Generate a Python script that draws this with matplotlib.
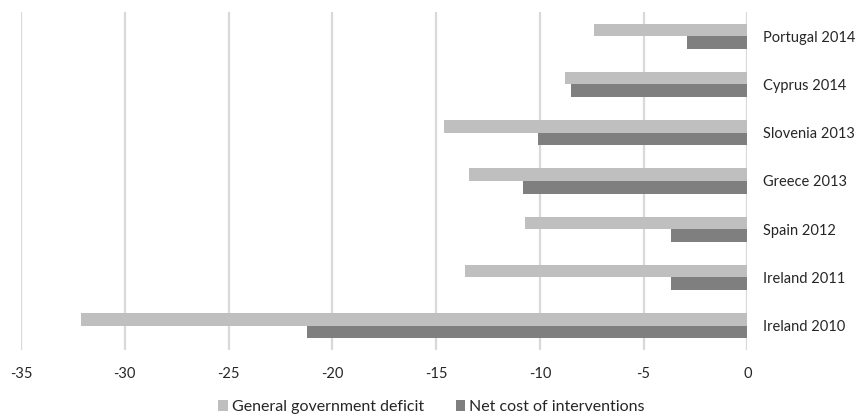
import matplotlib

matplotlib.use("Agg")
import matplotlib.pyplot as plt
import numpy as np

plt.rcParams["font.family"] = ["Lato", "DejaVu Sans"]

# bottom-to-top order, values in % of GDP
categories = ["Ireland 2010", "Ireland 2011", "Spain 2012", "Greece 2013",
              "Slovenia 2013", "Cyprus 2014", "Portugal 2014"]
deficit = [-32.1, -13.6, -10.7, -13.4, -14.6, -8.8, -7.4]
net_cost = [-21.2, -3.7, -3.7, -10.8, -10.1, -8.5, -2.9]
xticks = [-35, -30, -25, -20, -15, -10, -5, 0]

LIGHT = "#bfbfbf"
DARK = "#7f7f7f"
GRID = "#d9d9d9"
TEXT = "#262626"

fig = plt.figure(figsize=(8.63, 4.18), dpi=100)
ax = fig.add_axes([0.0243, 0.163, 0.866 - 0.0243, 0.808])

y = np.arange(len(categories))
h = 0.26
ax.barh(y + h / 2, deficit, h, color=LIGHT, label="General government deficit", zorder=2)
ax.barh(y - h / 2, net_cost, h, color=DARK, label="Net cost of interventions", zorder=2)

ax.set_xlim(-35, 0)
ax.set_ylim(-0.5, len(categories) - 0.5)
ax.set_xticks(xticks)
ax.set_xticklabels([str(v) for v in xticks])
ax.xaxis.grid(True, color=GRID, linewidth=1.6, zorder=0)
ax.set_axisbelow(True)

ax.set_yticks(y)
ax.set_yticklabels(categories)
ax.yaxis.tick_right()
ax.tick_params(axis="y", length=0, pad=11.5, labelsize=10.5, labelcolor=TEXT)
ax.tick_params(axis="x", length=0, pad=12, labelsize=10.5, labelcolor=TEXT)
for s in ax.spines.values():
    s.set_visible(False)

fig.legend(loc="lower center", bbox_to_anchor=(0.5, -0.025), ncol=2, frameon=False,
           fontsize=11.5, handlelength=0.6, handleheight=0.6, handletextpad=0.25,
           columnspacing=2.0, labelcolor=TEXT)

fig.savefig("out.png", dpi=100)
